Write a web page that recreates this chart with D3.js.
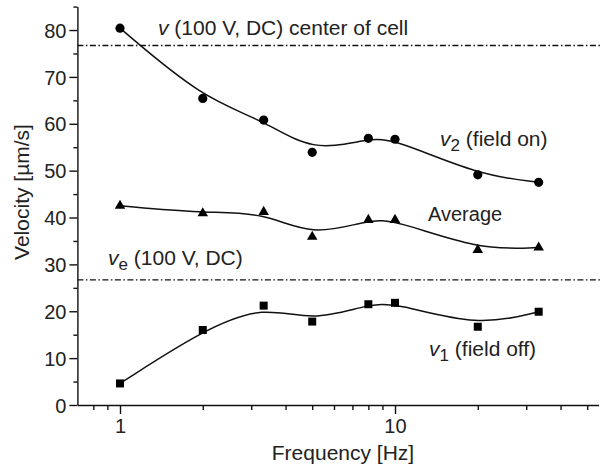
<!DOCTYPE html>
<html>
<head>
<meta charset="utf-8">
<script src="https://cdn.jsdelivr.net/npm/d3@7"></script>
<style>
  html, body { margin: 0; padding: 0; background: #fff; }
  svg { display: block; font-family: "Liberation Sans", Arial, sans-serif; }
  .axis path, .axis line { stroke: #111; stroke-width: 1.4; }
  .axis text { font-size: 20px; fill: #222; font-family: "Liberation Sans", Arial, sans-serif; }
</style>
</head>
<body>
<svg id="chart" width="600" height="469"></svg>
<script>
// Drive frequencies [Hz]
const frequency = [1, 2, 3.33, 5, 8, 10, 20, 33.3];
// Velocities [µm/s]
const v2FieldOn = [80.4, 65.4, 60.8, 53.9, 56.9, 56.7, 49.1, 47.5];
const average   = [42.5, 40.9, 41.2, 35.9, 39.5, 39.5, 33.1, 33.6];
const v1FieldOff = [4.6, 16.0, 21.2, 17.8, 21.5, 21.8, 16.7, 19.9];
// Reference DC velocities
const vCenterDC = 76.7;
const veDC = 26.7;
// Axis ticks
const yMajorTicks = [0, 10, 20, 30, 40, 50, 60, 70, 80];
const yMinorTicks = [5, 15, 25, 35, 45, 55, 65, 75, 85];
const xMajorTicks = [1, 10];
const xMinorTicks = [0.8, 0.9, 2, 3, 4, 5, 6, 7, 8, 9, 20, 30, 40, 50];

const svg = d3.select("#chart");

const x = d3.scaleLog().domain([0.7, 55]).range([77.4, 598.6]);
const y = d3.scaleLinear().domain([0, 85]).range([405, 6.6]);

// Axes: minor ticks first, then major with labels
svg.append("g").attr("class", "axis")
  .attr("transform", `translate(0,${y(0)})`)
  .call(d3.axisBottom(x).tickValues(xMinorTicks).tickSize(5).tickFormat(""))
  .call(g => g.select(".domain").remove());
svg.append("g").attr("class", "axis")
  .attr("transform", `translate(0,${y(0)})`)
  .call(d3.axisBottom(x).tickValues(xMajorTicks).tickSize(9).tickSizeOuter(0)
        .tickPadding(5).tickFormat(d3.format("d")));

svg.append("g").attr("class", "axis")
  .attr("transform", `translate(${x(0.7)},0)`)
  .call(d3.axisLeft(y).tickValues(yMinorTicks).tickSize(4).tickFormat(""))
  .call(g => g.select(".domain").remove());
svg.append("g").attr("class", "axis")
  .attr("transform", `translate(${x(0.7)},0)`)
  .call(d3.axisLeft(y).tickValues(yMajorTicks).tickSize(8).tickSizeOuter(0)
        .tickPadding(3).tickFormat(d3.format("d")))
  .call(g => g.selectAll(".tick text").attr("dy", "0.36em"));

// Axis titles
svg.append("text")
  .attr("x", 343).attr("y", 460)
  .attr("text-anchor", "middle")
  .attr("font-size", 21).attr("fill", "#222")
  .text("Frequency [Hz]");
svg.append("text")
  .attr("transform", "translate(29,192) rotate(-90)")
  .attr("text-anchor", "middle")
  .attr("font-size", 21).attr("fill", "#222")
  .text("Velocity [µm/s]");

// Dash-dot reference lines
[vCenterDC, veDC].forEach(v => {
  svg.append("line")
    .attr("x1", x(0.7)).attr("x2", 600)
    .attr("y1", y(v)).attr("y2", y(v))
    .attr("stroke", "#111").attr("stroke-width", 1.3)
    .attr("stroke-dasharray", "6,2.5,1.5,2.5");
});

// Smoothed curves
const line = d3.line()
  .x((d, i) => x(frequency[i]))
  .y(d => y(d))
  .curve(d3.curveBasis);
[v2FieldOn, average, v1FieldOff].forEach(s => {
  svg.append("path")
    .attr("d", line(s))
    .attr("fill", "none").attr("stroke", "#111").attr("stroke-width", 1.5);
});

// Markers
svg.append("g").selectAll("circle").data(v2FieldOn).join("circle")
  .attr("cx", (d, i) => x(frequency[i])).attr("cy", d => y(d))
  .attr("r", 4.6).attr("fill", "#000");
const tri = d3.symbol().type(d3.symbolTriangle).size(48);
svg.append("g").selectAll("path").data(average).join("path")
  .attr("transform", (d, i) => `translate(${x(frequency[i])},${y(d)})`)
  .attr("d", tri).attr("fill", "#000");
svg.append("g").selectAll("rect").data(v1FieldOff).join("rect")
  .attr("x", (d, i) => x(frequency[i]) - 4).attr("y", d => y(d) - 4)
  .attr("width", 8).attr("height", 8).attr("fill", "#000");

// Series annotations
function label(xp, yp, parts, size) {
  const t = svg.append("text").attr("x", xp).attr("y", yp)
    .attr("font-size", size || 21).attr("fill", "#222");
  parts.forEach(p => {
    const s = t.append("tspan").text(p.text);
    if (p.italic) s.attr("font-style", "italic");
    if (p.sub) s.attr("font-size", 17).attr("dy", 5);
    if (p.up) s.attr("dy", -5);
  });
}
label(158, 35, [{ text: "v", italic: true }, { text: " (100 V, DC) center of cell" }]);
label(440, 146, [{ text: "v", italic: true }, { text: "2", sub: true }, { text: " (field on)", up: true }]);
label(428, 221, [{ text: "Average" }], 20);
label(108, 265, [{ text: "v", italic: true }, { text: "e", sub: true }, { text: " (100 V, DC)", up: true }]);
label(429, 356, [{ text: "v", italic: true }, { text: "1", sub: true }, { text: " (field off)", up: true }]);
</script>
</body>
</html>
